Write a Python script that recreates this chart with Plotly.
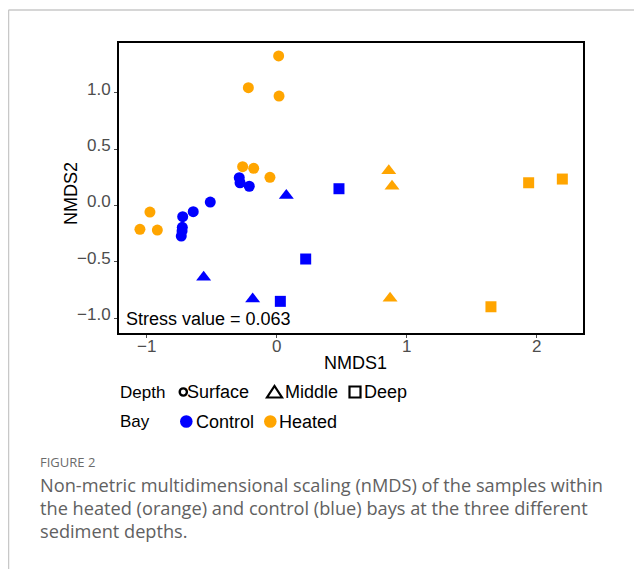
import plotly.graph_objects as go

# ---------------- data ----------------
control_surface_x = [-0.288, -0.282, -0.211, -0.511, -0.642, -0.723, -0.726, -0.728, -0.734]
control_surface_y = [0.247, 0.202, 0.171, 0.031, -0.055, -0.099, -0.194, -0.226, -0.271]
control_middle_x = [0.074, -0.562, -0.185]
control_middle_y = [0.089, -0.637, -0.829]
control_deep_x = [0.479, 0.223, 0.028]
control_deep_y = [0.149, -0.475, -0.851]

heated_surface_x = [0.015, -0.218, 0.018, -0.262, -0.177, -0.052, -0.975, -1.052, -0.918]
heated_surface_y = [1.328, 1.046, 0.972, 0.345, 0.330, 0.250, -0.058, -0.211, -0.218]
heated_middle_x = [0.862, 0.887, 0.872]
heated_middle_y = [0.308, 0.171, -0.823]
heated_deep_x = [1.938, 2.197, 1.648]
heated_deep_y = [0.202, 0.235, -0.899]

x_ticks = [-1, 0, 1, 2]
y_ticks = [-1.0, -0.5, 0.0, 0.5, 1.0]
stress_label = "Stress value = 0.063"
depth_labels = ["Surface", "Middle", "Deep"]
bay_labels = ["Control", "Heated"]
caption_head = "FIGURE 2"
caption_lines = [
    "Non-metric multidimensional scaling (nMDS) of the samples within",
    "the heated (orange) and control (blue) bays at the three different",
    "sediment depths.",
]

# ---------------- styles / layout ----------------
PAGE_OFF = 8                      # default body margin of the html page
W_PAGE, H_PAGE = 642, 569
W_FIG, H_FIG = W_PAGE - PAGE_OFF, H_PAGE - PAGE_OFF
L, R, T, B = 119, 583, 43, 333    # panel edges in page pixels
PW, PH = R - L, B - T
BLUE, ORANGE = "#0000FF", "#FFA500"
FONT = "Liberation Sans, Arial, sans-serif"
CAP_FONT = "Open Sans, Noto Sans, sans-serif"


def fx(p):
    return (p - L) / PW


def fy(p):
    return (B - p) / PH


fig = go.Figure()

groups = [
    (control_surface_x, control_surface_y, BLUE, "circle", 11),
    (control_middle_x, control_middle_y, BLUE, "triangle-up", 13),
    (control_deep_x, control_deep_y, BLUE, "square", 11),
    (heated_surface_x, heated_surface_y, ORANGE, "circle", 11),
    (heated_middle_x, heated_middle_y, ORANGE, "triangle-up", 13),
    (heated_deep_x, heated_deep_y, ORANGE, "square", 11),
]
for xs, ys, col, sym, size in groups:
    fig.add_trace(go.Scatter(
        x=xs, y=ys, mode="markers", showlegend=False, hoverinfo="skip",
        marker=dict(color=col, symbol=sym, size=size, line=dict(width=0)),
    ))

annotations = []
annotations.append(dict(
    x=fx(124), y=fy(318.5), xref="paper", yref="paper", xanchor="left", yanchor="middle",
    text=stress_label, showarrow=False, font=dict(family=FONT, size=18, color="black"),
))
annotations.append(dict(
    x=fx(355), y=fy(363), xref="paper", yref="paper", xanchor="center", yanchor="middle",
    text="NMDS1", showarrow=False, font=dict(family=FONT, size=18, color="black"),
))
annotations.append(dict(
    x=fx(71), y=fy(194), xref="paper", yref="paper", xanchor="center", yanchor="middle",
    text="NMDS2", textangle=-90, showarrow=False, font=dict(family=FONT, size=18, color="black"),
))
title_font = dict(family=FONT, size=17, color="black")
item_font = dict(family=FONT, size=18, color="black")
row1, row2 = 392, 421.5
annotations.append(dict(x=fx(117.5), y=fy(row1), xref="paper", yref="paper", xanchor="left",
                        yanchor="middle", text="Depth", showarrow=False, font=title_font))
annotations.append(dict(x=fx(117.5), y=fy(row2), xref="paper", yref="paper", xanchor="left",
                        yanchor="middle", text="Bay", showarrow=False, font=title_font))
for lab, px in zip(depth_labels, [184.5, 282.5, 361.5]):
    annotations.append(dict(x=fx(px), y=fy(row1), xref="paper", yref="paper", xanchor="left",
                            yanchor="middle", text=lab, showarrow=False, font=item_font))
for lab, px in zip(bay_labels, [193.5, 277]):
    annotations.append(dict(x=fx(px), y=fy(row2), xref="paper", yref="paper", xanchor="left",
                            yanchor="middle", text=lab, showarrow=False, font=item_font))
annotations.append(dict(x=fx(38), y=fy(461.5), xref="paper", yref="paper", xanchor="left",
                        yanchor="middle", text=caption_head, showarrow=False,
                        font=dict(family=CAP_FONT, size=13, color="#6b6b6b")))
for i, line in enumerate(caption_lines):
    annotations.append(dict(x=fx(38), y=fy(485 + 23 * i), xref="paper", yref="paper",
                            xanchor="left", yanchor="middle", text=line, showarrow=False,
                            font=dict(family=CAP_FONT, size=18.2, color="#616161")))

shapes = []
shapes.append(dict(type="line", xref="paper", yref="paper", x0=fx(8.5), x1=fx(W_PAGE),
                   y0=fy(10), y1=fy(10), line=dict(color="#c8c8c8", width=1.5)))
shapes.append(dict(type="line", xref="paper", yref="paper", x0=fx(8.5), x1=fx(8.5),
                   y0=fy(10), y1=fy(H_PAGE), line=dict(color="#c8c8c8", width=1.5)))


def key(anchor_x, anchor_y, **kw):
    d = dict(xref="paper", yref="paper", xsizemode="pixel", ysizemode="pixel",
             xanchor=fx(anchor_x), yanchor=fy(anchor_y))
    d.update(kw)
    return d


shapes.append(key(183.3, row1, type="circle", x0=-3.6, x1=3.6, y0=-3.6, y1=3.6,
                  line=dict(color="black", width=2.4)))
shapes.append(key(274.5, row1, type="path", path="M-7.5,-5.5 L7.5,-5.5 L0,6 Z",
                  line=dict(color="black", width=2.2)))
shapes.append(key(355, row1, type="rect", x0=-5.5, x1=5.5, y0=-5.5, y1=5.5,
                  line=dict(color="black", width=2.2)))
shapes.append(key(186.3, row2, type="circle", x0=-6.3, x1=6.3, y0=-6.3, y1=6.3,
                  fillcolor=BLUE, line=dict(width=0)))
shapes.append(key(270.3, row2, type="circle", x0=-6.3, x1=6.3, y0=-6.3, y1=6.3,
                  fillcolor=ORANGE, line=dict(width=0)))

axis_common = dict(
    showline=True, mirror=True, linecolor="black", linewidth=2,
    ticks="outside", ticklen=3, tickwidth=1, tickcolor="#4d4d4d",
    showgrid=False, zeroline=False,
    tickfont=dict(family=FONT, size=17, color="#4d4d4d"),
)

fig.update_layout(
    width=W_FIG, height=H_FIG, autosize=False,
    margin=dict(l=L - PAGE_OFF, r=W_PAGE - R, t=T - PAGE_OFF, b=H_PAGE - B, pad=0),
    paper_bgcolor="white", plot_bgcolor="white",
    xaxis=dict(range=[-1.213, 2.356], tickvals=x_ticks, ticklabelstandoff=-6, **axis_common),
    yaxis=dict(range=[-1.132, 1.443], tickvals=y_ticks, tickformat=".1f",
               ticklabelshift=-4, **axis_common),
    annotations=annotations, shapes=shapes, showlegend=False,
)

fig.write_html("out.html")
